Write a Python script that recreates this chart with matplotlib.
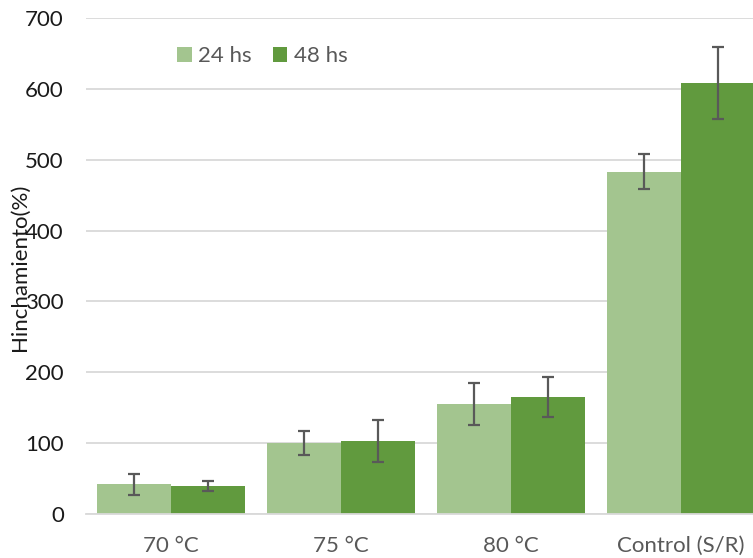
import matplotlib
matplotlib.use("Agg")
import matplotlib.pyplot as plt
import numpy as np

categories = ["70 °C", "75 °C", "80 °C", "Control (S/R)"]
series_names = ["24 hs", "48 hs"]
vals_24 = [42, 100, 155, 483]
err_24 = [15, 17, 30, 25]
vals_48 = [39, 103, 165, 608]
err_48 = [7, 30, 28, 51]
yticks = [0, 100, 200, 300, 400, 500, 600, 700]

c24 = "#a3c58f"
c48 = "#619a3e"
ecol = "#595959"

plt.rcParams['font.family'] = ['Lato', 'DejaVu Sans']

fig = plt.figure(figsize=(7.53, 5.58), dpi=100)
ax = fig.add_axes([86/753, 44/558, 680/753, 496/558])

x = np.arange(len(categories))
w = 0.435
ekw = dict(ecolor=ecol, elinewidth=1.6, capsize=4.5, capthick=1.6)
ax.bar(x - w/2, vals_24, w, color=c24, label=series_names[0], yerr=err_24, error_kw=ekw, zorder=2)
ax.bar(x + w/2, vals_48, w, color=c48, label=series_names[1], yerr=err_48, error_kw=ekw, zorder=2)

ax.set_xlim(-0.5, len(categories) - 0.5)
ax.set_ylim(0, 700)
ax.set_yticks(yticks)
ax.set_xticks(x)
ax.set_xticklabels(categories)
ax.grid(axis='y', color='#d9d9d9', linewidth=1.3, zorder=0)
ax.set_axisbelow(True)
for s in ['top', 'right', 'left']:
    ax.spines[s].set_visible(False)
ax.spines['bottom'].set_color('#d9d9d9')
ax.spines['bottom'].set_linewidth(1.3)
ax.tick_params(axis='both', length=0)
ax.tick_params(axis='y', labelsize=16, labelcolor='#1a1a1a', pad=16)
ax.tick_params(axis='x', labelsize=16, labelcolor='#595959', pad=16)

ax.set_ylabel("Hinchamiento(%)", fontsize=16, color='#1a1a1a')
ax.yaxis.set_label_coords(-0.097, 0.497)
ax.yaxis.label.set_va('center')

leg = ax.legend(loc='center left', bbox_to_anchor=(0.134, 0.923), ncol=2, frameon=False,
                fontsize=16, handlelength=0.65, handleheight=0.65, handletextpad=0.3,
                columnspacing=0.95, borderpad=0, borderaxespad=0)
for t in leg.get_texts():
    t.set_color('#595959')

fig.savefig("out.png", dpi=100)
